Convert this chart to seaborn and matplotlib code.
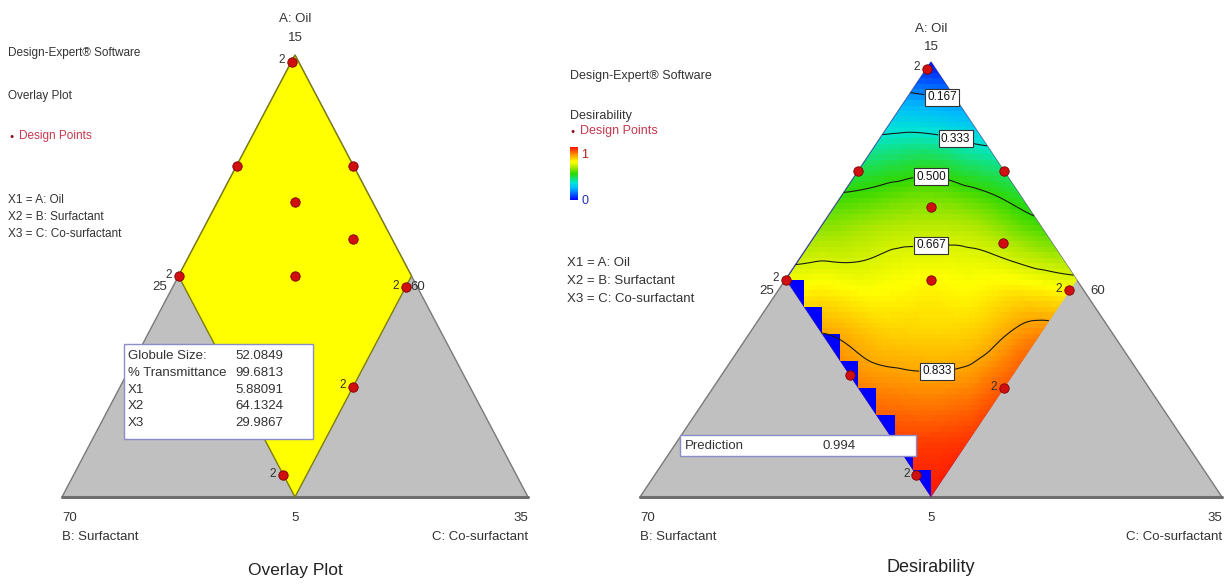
import numpy as np
import matplotlib
matplotlib.use('Agg')
import matplotlib.pyplot as plt
import matplotlib.tri as mtri
from matplotlib.colors import LinearSegmentedColormap, ListedColormap
from matplotlib.patches import Polygon, Rectangle
import matplotlib.colorbar as mcolorbar
import seaborn as sns

# component ranges (A: Oil, B: Surfactant, C: Co-surfactant)
oil_range = [5, 15]
surf_range = [60, 70]
cosurf_range = [25, 35]

# design points (actual units) and replicate counts
oil = [14.85, 12.5, 12.5, 11.67, 10.83, 10.0, 10.0, 9.75, 7.5, 7.8, 5.5]
surfactant = [60.15, 62.5, 60.0, 61.67, 60.84, 62.5, 65.0, 60.25, 62.5, 65.0, 65.0]
cosurfactant = [25.0, 25.0, 27.5, 26.66, 28.33, 27.5, 25.0, 30.0, 30.0, 27.2, 29.5]
replicates = [2, 1, 1, 1, 1, 1, 2, 2, 2, 1, 2]

# feasible region (overlay) corners
region_oil = [15, 10, 5, 10]
region_surf = [60, 65, 65, 60]
region_cosurf = [25, 25, 30, 30]

# desirability, rows = surfactant level, cols = co-surfactant level
grid_surf = [60, 61.25, 62.5, 63.75, 65]
grid_cosurf = [25, 26.25, 27.5, 28.75, 30]
desirability = [
    [0.02, 0.23, 0.41, 0.52, 0.68],
    [0.27, 0.48, 0.62, 0.72, 0.87],
    [0.44, 0.62, 0.72, 0.78, 0.92],
    [0.58, 0.70, 0.78, 0.86, 0.96],
    [0.70, 0.835, 0.88, 0.95, 0.99],
]
levels = [0.167, 0.333, 0.5, 0.667, 0.833]

info_names = ['Globule Size:', '% Transmittance', 'X1', 'X2', 'X3']
info_values = ['52.0849', '99.6813', '5.88091', '64.1324', '29.9867']
prediction = 0.994


def to_xy(a, b, c):
    a = (np.asarray(a, float) - oil_range[0]) / 10.0
    c = (np.asarray(c, float) - cosurf_range[0]) / 10.0
    return c + a / 2.0, a


sns.set_theme(style='white')
plt.rcParams['font.family'] = ['Liberation Sans', 'DejaVu Sans']

W, H = 1231, 584
fig = plt.figure(figsize=(W / 100, H / 100), dpi=100)


def px(x, y):
    return x / W, 1 - y / H


txt = '#333333'
red_txt = '#c8384e'

ax1 = fig.add_axes([0, 0, 0.5, 1])
ax2 = fig.add_axes([0.5, 0, 0.5, 1])
ax1.set_xlim(-62 / 466, (615.5 - 62) / 466)
ax1.set_ylim(-87 / 442, 497 / 442)
ax2.set_xlim((615.5 - 640) / 582, (1231 - 640) / 582)
ax2.set_ylim(-87 / 435, 497 / 435)

tri_x, tri_y = to_xy([oil_range[1], oil_range[0], oil_range[0]],
                     [surf_range[0], surf_range[1], surf_range[0]],
                     [cosurf_range[0], cosurf_range[0], cosurf_range[1]])
reg_x, reg_y = to_xy(region_oil, region_surf, region_cosurf)
pt_x, pt_y = to_xy(oil, surfactant, cosurfactant)

for ax in (ax1, ax2):
    ax.set_axis_off()
    ax.add_patch(Polygon(np.c_[tri_x, tri_y], closed=True, fc='#c0c0c0',
                         ec='#7a7a7a', lw=1.0, zorder=1))
    ax.plot([tri_x[1], tri_x[2]], [tri_y[1], tri_y[2]], color='#6e6e6e', lw=2.2, zorder=2)

# ---- left: overlay plot
ax1.add_patch(Polygon(np.c_[reg_x, reg_y], closed=True, fc='#ffff00', ec='#7c7c10',
                      lw=1.0, zorder=2))

# ---- right: desirability map
gs, gc = np.meshgrid(grid_surf, grid_cosurf, indexing='ij')
ga = 100 - gs - gc
nx, ny = to_xy(ga.ravel(), gs.ravel(), gc.ravel())
d = np.asarray(desirability, float).ravel()
tri_bc = mtri.Triangulation((gs.ravel() - 60) / 10, (gc.ravel() - 25) / 10)
tri = mtri.Triangulation(nx, ny, triangles=tri_bc.triangles)
interp = mtri.CubicTriInterpolator(tri, d, kind='geom')

diamond = Polygon(np.c_[reg_x, reg_y], closed=True, fc='#0000ff', ec='none', zorder=2)
ax2.add_patch(diamond)

cmap = LinearSegmentedColormap.from_list(
    'de', [(0.0, '#0000ff'), (0.22, '#00b8ff'), (0.33, '#00e6d2'), (0.5, '#30d800'),
           (0.62, '#b0e800'), (0.72, '#ffff00'), (0.85, '#ff9a00'), (1.0, '#ff1000')])

# fine colour grid
xe = np.linspace(0.25, 0.75, 101)
ye = np.linspace(0.0, 1.0, 81)
XC, YC = np.meshgrid((xe[:-1] + xe[1:]) / 2, (ye[:-1] + ye[1:]) / 2)
bb = np.clip(1 - XC - YC / 2, 1e-6, 0.5 - 1e-6)
cc = np.clip(XC - YC / 2, 1e-6, 0.5 - 1e-6)
aa = 1 - bb - cc
vals = interp(cc + aa / 2, aa)
mesh = ax2.pcolormesh(xe, ye, vals, cmap=cmap, vmin=0, vmax=1, shading='flat', zorder=3)
mesh.set_clip_path(diamond)

# coarse cells crossing the surfactant = 65 edge are left blue
xs = np.linspace(0.25, 0.75, 17)
ys = np.linspace(0.0, 1.0, 17)
X0, Y0 = np.meshgrid(xs[:-1], ys[:-1])
bad = (1 - X0 - Y0 / 2) > 0.5 + 1e-9
teeth = np.ma.masked_where(~bad, np.ones_like(X0))
tmesh = ax2.pcolormesh(xs, ys, teeth, cmap=ListedColormap(['#0000ff']), shading='flat', zorder=3.5)
tmesh.set_clip_path(diamond)

refiner = mtri.UniformTriRefiner(tri)
tri_f, d_f = refiner.refine_field(d, triinterpolator=interp, subdiv=4)
cs = ax2.tricontour(tri_f, d_f, levels=levels, colors='#1a1a1a', linewidths=0.8, zorder=4)
manual = [(0.52, 0.93), (0.545, 0.835), (0.5, 0.735), (0.5, 0.575), (0.51, 0.30)]
labels = ax2.clabel(cs, levels, fmt='%.3f', manual=manual, inline=True,
                    inline_spacing=3, fontsize=8.5, colors='#111111')
for t in labels:
    t.set_rotation(0)
    t.set_bbox(dict(boxstyle='square,pad=0.2', fc='white', ec='#333333', lw=0.8))
    t.set_zorder(6)

# design points + replicate marks
for ax in (ax1, ax2):
    sns.scatterplot(x=pt_x, y=pt_y, ax=ax, s=46, color='#d01010', edgecolor='#7a0000',
                    linewidth=0.6, legend=False, zorder=5)
    for x, y, r in zip(pt_x, pt_y, replicates):
        if r > 1:
            ax.annotate(str(r), (x, y), xytext=(-5, 1), textcoords='offset points',
                        ha='right', va='center', fontsize=8.5, color=txt, zorder=6)

# vertex / axis labels
for ax, top_off, l_off, r_off in ((ax1, (12, 26), (-8, -8), (-1, -8)),
                                  (ax2, (11, 24), (-8, -8), (10, -8))):
    ax.annotate('15', (tri_x[0], tri_y[0]), xytext=(0, top_off[0]), textcoords='offset points',
                ha='center', va='center', fontsize=9.5, color=txt)
    ax.annotate('A: Oil', (tri_x[0], tri_y[0]), xytext=(0, top_off[1]), textcoords='offset points',
                ha='center', va='center', fontsize=9.5, color=txt)
    ax.annotate('25', (reg_x[1], reg_y[1]), xytext=l_off, textcoords='offset points',
                ha='right', va='center', fontsize=9.5, color=txt)
    ax.annotate('60', (reg_x[3], reg_y[3]), xytext=r_off, textcoords='offset points',
                ha='left', va='center', fontsize=9.5, color=txt)
    ax.annotate('70', (tri_x[1], tri_y[1]), xytext=(0, -15), textcoords='offset points',
                ha='left', va='center', fontsize=9.5, color=txt)
    ax.annotate('B: Surfactant', (tri_x[1], tri_y[1]), xytext=(0, -29), textcoords='offset points',
                ha='left', va='center', fontsize=9.5, color=txt)
    ax.annotate('5', (reg_x[2], reg_y[2]), xytext=(0, -15), textcoords='offset points',
                ha='center', va='center', fontsize=9.5, color=txt)
    ax.annotate('35', (tri_x[2], tri_y[2]), xytext=(0, -15), textcoords='offset points',
                ha='right', va='center', fontsize=9.5, color=txt)
    ax.annotate('C: Co-surfactant', (tri_x[2], tri_y[2]), xytext=(0, -29), textcoords='offset points',
                ha='right', va='center', fontsize=9.5, color=txt)

fig.text(*px(295, 570), 'Overlay Plot', ha='center', va='center', fontsize=12.5, color='#222222')
fig.text(*px(931, 568), 'Desirability', ha='center', va='center', fontsize=13, color='#222222')

# left legend text
fig.text(*px(8, 53), 'Design-Expert® Software', ha='left', va='center', fontsize=8.5, color=txt)
fig.text(*px(8, 96), 'Overlay Plot', ha='left', va='center', fontsize=8.5, color=txt)
fig.text(*px(9, 136), '●', ha='left', va='center', fontsize=5, color='#8b0a1a')
fig.text(*px(19, 136), 'Design Points', ha='left', va='center', fontsize=8.5, color=red_txt)
for i, s in enumerate(['X1 = A: Oil', 'X2 = B: Surfactant', 'X3 = C: Co-surfactant']):
    fig.text(*px(8, 200 + 17 * i), s, ha='left', va='center', fontsize=8.5, color=txt)

# right legend text
fig.text(*px(570, 76), 'Design-Expert® Software', ha='left', va='center', fontsize=9, color=txt)
fig.text(*px(570, 116), 'Desirability', ha='left', va='center', fontsize=9, color=txt)
fig.text(*px(570, 131), '●', ha='left', va='center', fontsize=5, color='#8b0a1a')
fig.text(*px(580, 131), 'Design Points', ha='left', va='center', fontsize=9, color=red_txt)
cax = fig.add_axes([570 / W, 1 - 200 / H, 8 / W, 53 / H])
cb = mcolorbar.ColorbarBase(cax, cmap=cmap, orientation='vertical')
cb.set_ticks([])
cb.outline.set_visible(False)
fig.text(*px(581, 155), '1', ha='left', va='center', fontsize=9, color='#b02020')
fig.text(*px(581, 201), '0', ha='left', va='center', fontsize=9, color='#2030b0')
for i, s in enumerate(['X1 = A: Oil', 'X2 = B: Surfactant', 'X3 = C: Co-surfactant']):
    fig.text(*px(567, 263 + 18 * i), s, ha='left', va='center', fontsize=9.5, color=txt)

# flag boxes
fig.patches.append(Rectangle(px(124, 439), 189 / W, 95 / H, transform=fig.transFigure,
                             fc='white', ec='#8c8cc8', lw=1.0, zorder=10))
for i, (n, v) in enumerate(zip(info_names, info_values)):
    fig.text(*px(128, 356 + 16.8 * i), n, ha='left', va='center', fontsize=9.5, color=txt, zorder=11)
    fig.text(*px(235, 356 + 16.8 * i), v, ha='left', va='center', fontsize=9.5, color=txt, zorder=11)

fig.patches.append(Rectangle(px(680, 456), 236 / W, 21 / H, transform=fig.transFigure,
                             fc='white', ec='#8c8cc8', lw=1.0, zorder=10))
fig.text(*px(685, 446), 'Prediction', ha='left', va='center', fontsize=9.5, color=txt, zorder=11)
fig.text(*px(839, 446), f'{prediction:.3f}', ha='center', va='center', fontsize=9.5, color=txt, zorder=11)

fig.savefig('out.png', dpi=100, facecolor='white')
